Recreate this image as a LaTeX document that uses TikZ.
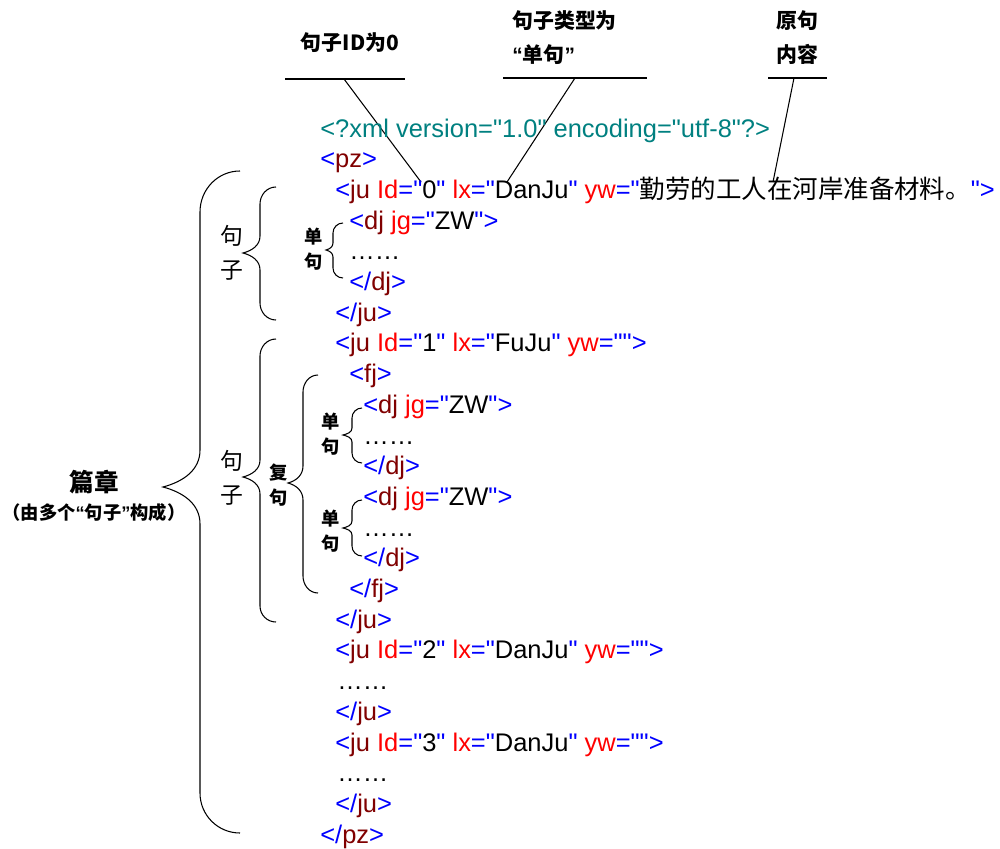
\documentclass[tikz,border=0pt]{standalone}
\usepackage{fontspec}
\setmainfont{Liberation Sans}[Ligatures=TeXOff]
\newfontfamily\cjk{Noto Sans CJK SC}
\newfontfamily\latq{Liberation Sans}[Ligatures=TeXOff]
\definecolor{tagred}{RGB}{128,0,0}
\definecolor{declcol}{RGB}{0,128,128}
\newcommand{\xbl}[1]{\textcolor{blue}{#1}}
\newcommand{\xtg}[1]{\textcolor{tagred}{#1}}
\newcommand{\xat}[1]{\textcolor{red}{#1}}
\newcommand{\xopen}[1]{\xbl{<}\xtg{#1}}
\newcommand{\xclose}[1]{\xbl{</}\xtg{#1}\xbl{>}}
\newcommand{\xattr}[2]{\xat{#1}\xbl{="}#2\xbl{"}}
\newcommand{\oq}{{\latq “}}
\newcommand{\cq}{{\latq ”}}

\begin{document}
\begin{tikzpicture}[x=0.02cm,y=0.02cm,
  xml/.style={anchor=base west,inner sep=0pt,font=\fontsize{14.5}{17}\selectfont},
  toplbl/.style={inner sep=0pt,font=\cjk\bfseries\fontsize{11.9}{19.3}\selectfont},
  bigzi/.style={inner sep=0pt,align=center,font=\cjk\fontsize{13}{19}\selectfont},
  smallju/.style={inner sep=0pt,align=center,font=\cjk\bfseries\fontsize{10.4}{14.5}\selectfont},
  brace/.style={line width=0.6pt}]
\useasboundingbox (0,0) rectangle (1000,-848);
\coordinate (A) at (285,-79);
\coordinate (B) at (405,-79);
\coordinate (C) at (503,-78);
\coordinate (D) at (647,-78);
\coordinate (E) at (768,-78);
\coordinate (F) at (827,-78);
\coordinate (A1) at (344,-79);
\coordinate (A2) at (421,-182);
\coordinate (C1) at (575,-78);
\coordinate (C2) at (507,-182);
\coordinate (E1) at (794,-78);
\coordinate (E2) at (773,-182);
% labels on top
\node[toplbl] (idlbl) at (350,-43) {句子ID为0};
\node[toplbl,anchor=west,align=left] (lxlbl) at (512,-38) {句子类型为\\\oq 单句\cq};
\node[toplbl,align=center] (ywlbl) at (797,-38) {原句\\内容};
\draw[line width=1pt] (A) -- (B);
\draw[line width=1pt] (C) -- (D);
\draw[line width=1pt] (E) -- (F);
\draw[line width=0.6pt] (A1) -- (A2);
\draw[line width=0.6pt] (C1) -- (C2);
\draw[line width=0.6pt] (E1) -- (E2);
% xml lines
\node[xml,declcol] (L1) at (320,-137) {<?xml version="1.0" encoding="utf-8"?>};
\node[xml] (L2) at (320,-167.7) {\xopen{pz}\xbl{>}};
\node[xml] (L3) at (335,-198.4) {\xopen{ju} \xattr{Id}{0} \xattr{lx}{DanJu} \xat{yw}\xbl{="}{\cjk 勤劳的工人在河岸准备材料。}\xbl{">}};
\node[xml] (L4) at (349,-229.1) {\xopen{dj} \xattr{jg}{ZW}\xbl{>}};
\node[xml] (L5) at (349,-259.8) {……};
\node[xml] (L6) at (349,-290.5) {\xclose{dj}};
\node[xml] (L7) at (335,-321.2) {\xclose{ju}};
\node[xml] (L8) at (335,-351.9) {\xopen{ju} \xattr{Id}{1} \xattr{lx}{FuJu} \xattr{yw}{}\xbl{>}};
\node[xml] (L9) at (349,-382.6) {\xopen{fj}\xbl{>}};
\node[xml] (L10) at (363,-413.3) {\xopen{dj} \xattr{jg}{ZW}\xbl{>}};
\node[xml] (L11) at (363,-444) {……};
\node[xml] (L12) at (363,-474.7) {\xclose{dj}};
\node[xml] (L13) at (363,-505.4) {\xopen{dj} \xattr{jg}{ZW}\xbl{>}};
\node[xml] (L14) at (363,-536.1) {……};
\node[xml] (L15) at (363,-566.8) {\xclose{dj}};
\node[xml] (L16) at (349,-597.5) {\xclose{fj}};
\node[xml] (L17) at (335,-628.2) {\xclose{ju}};
\node[xml] (L18) at (335,-658.9) {\xopen{ju} \xattr{Id}{2} \xattr{lx}{DanJu} \xattr{yw}{}\xbl{>}};
\node[xml] (L19) at (337,-689.6) {……};
\node[xml] (L20) at (335,-720.3) {\xclose{ju}};
\node[xml] (L21) at (335,-751) {\xopen{ju} \xattr{Id}{3} \xattr{lx}{DanJu} \xattr{yw}{}\xbl{>}};
\node[xml] (L22) at (337,-781.7) {……};
\node[xml] (L23) at (335,-812.4) {\xclose{ju}};
\node[xml] (L24) at (320,-843.1) {\xclose{pz}};
% braces
\draw[brace] (240,-171) to[out=180,in=90] (200,-212) -- (200,-450) to[out=-90,in=15] (163,-487) to[out=-15,in=90] (200,-524) -- (200,-793) to[out=-90,in=180] (240,-833);
\draw[brace] (276,-187) to[out=180,in=90] (260,-204) -- (260,-236) to[out=-90,in=15] (243,-253) to[out=-15,in=90] (260,-270) -- (260,-303) to[out=-90,in=180] (276,-320);
\draw[brace] (343,-223) to[out=180,in=90] (333,-233) -- (333,-243) to[out=-90,in=15] (326,-250) to[out=-15,in=90] (333,-257) -- (333,-268) to[out=-90,in=180] (343,-278);
\draw[brace] (276,-339) to[out=180,in=90] (260,-356) -- (260,-460) to[out=-90,in=15] (243,-477) to[out=-15,in=90] (260,-494) -- (260,-606) to[out=-90,in=180] (276,-622);
\draw[brace] (318,-375) to[out=180,in=90] (303,-392) -- (303,-466) to[out=-90,in=15] (288,-483) to[out=-15,in=90] (303,-500) -- (303,-576) to[out=-90,in=180] (318,-593);
\draw[brace] (362,-408) to[out=180,in=90] (352,-418) -- (352,-428) to[out=-90,in=15] (343,-435) to[out=-15,in=90] (352,-442) -- (352,-453) to[out=-90,in=180] (362,-463);
\draw[brace] (362,-500) to[out=180,in=90] (352,-510) -- (352,-521) to[out=-90,in=15] (343,-528) to[out=-15,in=90] (352,-535) -- (352,-546) to[out=-90,in=180] (362,-556);
% brace labels
\node[inner sep=0pt,font=\cjk\bfseries\fontsize{14}{16}\selectfont] (pian) at (94,-482) {篇章};
\node[inner sep=0pt,font=\cjk\bfseries\fontsize{10.4}{12}\selectfont] (piansub) at (94,-513) {（由多个\oq 句子\cq 构成）};
\node[bigzi] (juzi1) at (232,-253) {句\\子};
\node[bigzi] (juzi2) at (232,-478) {句\\子};
\node[smallju] (dan1) at (314,-249) {单\\句};
\node[smallju] (fu1) at (279,-485) {复\\句};
\node[smallju] (dan2) at (331,-434) {单\\句};
\node[smallju] (dan3) at (331,-531) {单\\句};
%\draw[red] (0,0) rectangle (1000,-848);
\end{tikzpicture}
\end{document}
